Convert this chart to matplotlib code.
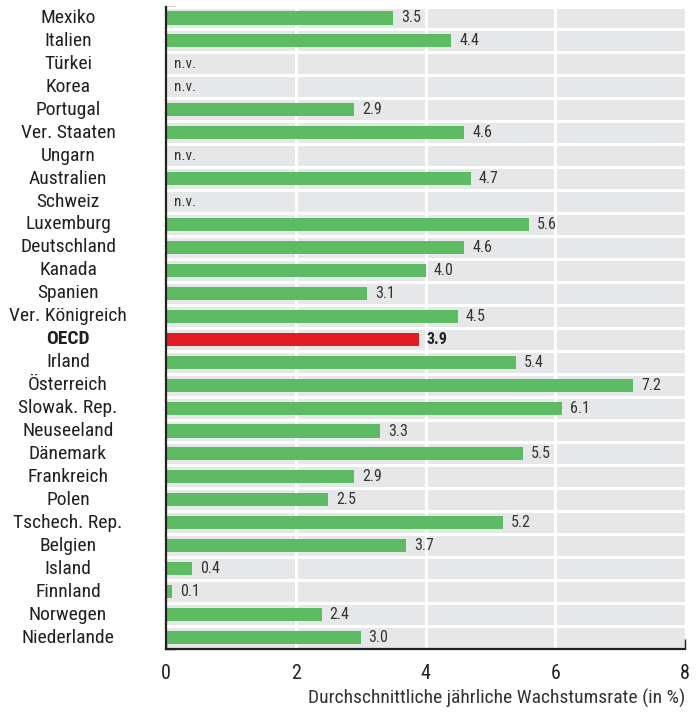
import numpy as np
import matplotlib.pyplot as plt
from matplotlib import transforms

plt.rcParams['font.family'] = ['Roboto Condensed', 'DejaVu Sans']

laender = ['Mexiko', 'Italien', 'Türkei', 'Korea', 'Portugal', 'Ver. Staaten',
           'Ungarn', 'Australien', 'Schweiz', 'Luxemburg', 'Deutschland', 'Kanada',
           'Spanien', 'Ver. Königreich', 'OECD', 'Irland', 'Österreich',
           'Slowak. Rep.', 'Neuseeland', 'Dänemark', 'Frankreich', 'Polen',
           'Tschech. Rep.', 'Belgien', 'Island', 'Finnland', 'Norwegen', 'Niederlande']
werte = [3.5, 4.4, None, None, 2.9, 4.6, None, 4.7, None, 5.6, 4.6, 4.0,
         3.1, 4.5, 3.9, 5.4, 7.2, 6.1, 3.3, 5.5, 2.9, 2.5, 5.2, 3.7, 0.4,
         0.1, 2.4, 3.0]
xticks = [0, 2, 4, 6, 8]

gruen = '#5dbb63'
rot = '#e01b24'
grau = '#e6e7e8'

fig = plt.figure(figsize=(6.98, 7.12), dpi=100)
ax = fig.add_axes([166/698, 1 - 649/712, (685 - 166)/698, (649 - 6.5)/712])
ax.set_facecolor(grau)

n = len(laender)
y = np.arange(n)
vals = np.array([np.nan if v is None else v for v in werte])
farben = [rot if l == 'OECD' else gruen for l in laender]
ax.barh(y, np.nan_to_num(vals), height=0.57, color=farben, zorder=3)

# weisse Trennlinien
for b in np.arange(n + 1) - 0.5:
    ax.axhline(b, color='white', lw=2.2, zorder=2)
for xv in [2, 4, 6]:
    ax.axvline(xv, color='white', lw=2.2, zorder=2)

ax.set_xlim(0, 8)
ax.set_ylim(n - 0.5, -0.5)

# Werte beschriften
for i, (l, v) in enumerate(zip(laender, vals)):
    if np.isnan(v):
        ax.text(0.12, i, 'n.v.', va='center', ha='left', fontsize=11,
                color='#333333', zorder=4)
    else:
        ax.text(v + 0.12, i, f'{v:.1f}', va='center', ha='left',
                fontsize=11.5, color='#222222' if l == 'OECD' else '#333333',
                fontweight='bold' if l == 'OECD' else 'normal', zorder=4)

# Laendernamen links, zentriert
trans = transforms.blended_transform_factory(fig.transFigure, ax.transData)
for i, l in enumerate(laender):
    ax.text(68/698, i, l, transform=trans, ha='center', va='center',
            fontsize=14, color='#231f20',
            fontweight='bold' if l == 'OECD' else 'normal')

ax.set_yticks(np.arange(n + 1) - 0.5)
ax.set_yticklabels([])
ax.tick_params(axis='y', direction='in', length=7, width=1, color='#222222')
ax.set_xticks(xticks)
ax.set_xticklabels([str(t) for t in xticks], fontsize=14.5, color='#231f20')
ax.tick_params(axis='x', direction='in', length=7, width=1, color='#222222', pad=11)

for s in ['top', 'right']:
    ax.spines[s].set_visible(False)
for s in ['left', 'bottom']:
    ax.spines[s].set_linewidth(1.6)
    ax.spines[s].set_color('#222222')
    ax.spines[s].set_zorder(5)

fig.text(685/698, 1 - 698/712, 'Durchschnittliche jährliche Wachstumsrate (in %)',
         ha='right', va='center', fontsize=14, color='#333333')

fig.savefig('out.png', dpi=100)
